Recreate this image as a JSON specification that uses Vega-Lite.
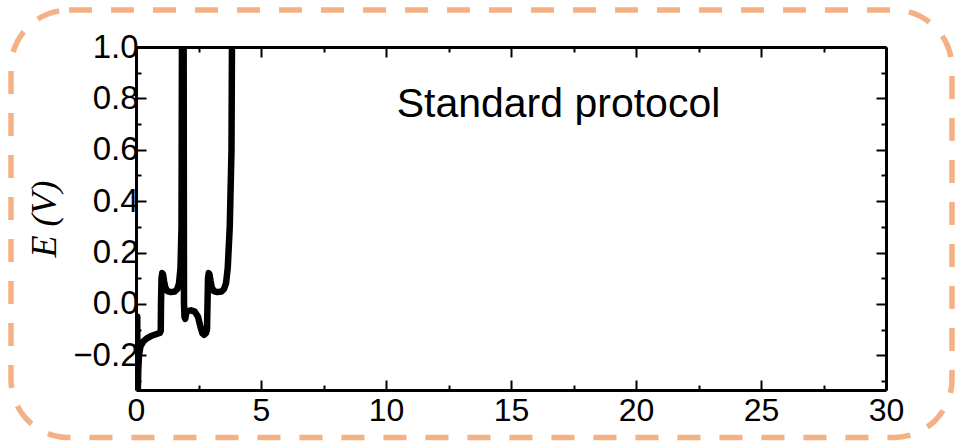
{
  "$schema": "https://vega.github.io/schema/vega-lite/v6.json",
  "width": 750,
  "height": 343,
  "autosize": "none",
  "padding": {"left": 136, "top": 47, "right": 73, "bottom": 51},
  "background": "white",
  "config": {"view": {"stroke": null}, "font": "Liberation Sans"},
  "resolve": {"axis": {"x": "independent", "y": "independent"}},
  "layer": [
    {
      "data": {"values": [{}]},
      "mark": {"type": "rect", "fill": null, "stroke": "#f4b183", "strokeWidth": 5.5, "strokeDash": [23, 19], "cornerRadius": 58, "clip": false},
      "encoding": {
        "x": {"datum": -5.0, "type": "quantitative", "axis": null, "scale": {"domain": [0, 30], "nice": false, "zero": false}},
        "x2": {"datum": 32.64},
        "y": {"datum": 1.144, "type": "quantitative", "axis": null, "scale": {"domain": [-0.335, 1.0], "nice": false, "zero": false}},
        "y2": {"datum": -0.52}
      }
    },
    {
      "data": {"values": [
        {"t": 0.05, "E": -0.05}, {"t": 0.06, "E": -0.6}, {"t": 0.075, "E": -0.33}, {"t": 0.09, "E": -0.26},
        {"t": 0.12, "E": -0.2}, {"t": 0.18, "E": -0.165}, {"t": 0.3, "E": -0.145}, {"t": 0.45, "E": -0.133},
        {"t": 0.6, "E": -0.125}, {"t": 0.8, "E": -0.118}, {"t": 0.95, "E": -0.113}, {"t": 0.99, "E": -0.105},
        {"t": 1.0, "E": 0.0}, {"t": 1.02, "E": 0.1}, {"t": 1.05, "E": 0.12}, {"t": 1.08, "E": 0.115},
        {"t": 1.12, "E": 0.09}, {"t": 1.17, "E": 0.065}, {"t": 1.25, "E": 0.05}, {"t": 1.4, "E": 0.046},
        {"t": 1.55, "E": 0.048}, {"t": 1.65, "E": 0.058}, {"t": 1.72, "E": 0.08}, {"t": 1.78, "E": 0.14},
        {"t": 1.82, "E": 0.3}, {"t": 1.85, "E": 1.5}, {"t": 1.9, "E": 1.5}, {"t": 1.92, "E": 0.0},
        {"t": 1.94, "E": -0.05}, {"t": 1.97, "E": -0.058}, {"t": 2.0, "E": -0.04}, {"t": 2.05, "E": -0.028},
        {"t": 2.2, "E": -0.025}, {"t": 2.35, "E": -0.03}, {"t": 2.48, "E": -0.05}, {"t": 2.58, "E": -0.09},
        {"t": 2.66, "E": -0.115}, {"t": 2.73, "E": -0.12}, {"t": 2.8, "E": -0.113}, {"t": 2.84, "E": -0.1},
        {"t": 2.86, "E": 0.0}, {"t": 2.88, "E": 0.1}, {"t": 2.91, "E": 0.12}, {"t": 2.94, "E": 0.115},
        {"t": 2.98, "E": 0.09}, {"t": 3.03, "E": 0.065}, {"t": 3.11, "E": 0.05}, {"t": 3.25, "E": 0.046},
        {"t": 3.42, "E": 0.048}, {"t": 3.52, "E": 0.058}, {"t": 3.6, "E": 0.08}, {"t": 3.67, "E": 0.14},
        {"t": 3.75, "E": 0.3}, {"t": 3.82, "E": 0.6}, {"t": 3.86, "E": 1.5}
      ]},
      "mark": {"type": "line", "color": "black", "strokeWidth": 6.5, "clip": true, "strokeJoin": "round", "strokeCap": "round"},
      "encoding": {
        "x": {
          "field": "t", "type": "quantitative",
          "scale": {"domain": [0, 30], "nice": false, "zero": false},
          "axis": {
            "orient": "bottom", "title": null, "grid": false,
            "values": [0, 2.5, 5, 7.5, 10, 12.5, 15, 17.5, 20, 22.5, 25, 27.5, 30],
            "labelExpr": "datum.value % 5 == 0 ? datum.label : ''",
            "tickSize": {"condition": {"test": "datum.value % 5 == 0", "value": -10}, "value": -5},
            "tickWidth": 2, "tickColor": "black",
            "domainWidth": 3, "domainColor": "black",
            "labelFontSize": 32, "labelColor": "black", "labelFont": "Liberation Sans",
            "labelPadding": 15, "labelFlush": false, "labelOverlap": false
          }
        },
        "y": {
          "field": "E", "type": "quantitative",
          "scale": {"domain": [-0.335, 1.0], "nice": false, "zero": false},
          "axis": {
            "orient": "left", "grid": false,
            "title": "E (V)", "titleFont": "Liberation Serif", "titleFontStyle": "italic", "titleFontWeight": "normal",
            "titleFontSize": 36, "titleColor": "black", "titlePadding": 9,
            "values": [-0.3, -0.2, -0.1, 0, 0.1, 0.2, 0.3, 0.4, 0.5, 0.6, 0.7, 0.8, 0.9, 1.0],
            "labelExpr": "abs(round(datum.value*10)) % 2 == 0 ? format(datum.value, '.1f') : ''",
            "tickSize": {"condition": {"test": "abs(round(datum.value*10)) % 2 == 0", "value": -10}, "value": -5},
            "tickWidth": 2, "tickColor": "black",
            "domainWidth": 3, "domainColor": "black",
            "labelFontSize": 33, "labelColor": "black", "labelFont": "Liberation Sans",
            "labelPadding": 8, "labelFlush": false, "labelOverlap": false
          }
        }
      }
    },
    {
      "data": {"values": [{}]},
      "mark": {"type": "text", "fontSize": 41, "font": "Liberation Sans", "align": "center", "baseline": "alphabetic", "color": "black"},
      "encoding": {
        "x": {
          "datum": 16.9, "type": "quantitative",
          "scale": {"domain": [0, 30], "nice": false, "zero": false},
          "axis": {
            "orient": "top", "title": null, "grid": false, "labels": false,
            "values": [0, 2.5, 5, 7.5, 10, 12.5, 15, 17.5, 20, 22.5, 25, 27.5, 30],
            "tickSize": {"condition": {"test": "datum.value % 5 == 0", "value": -10}, "value": -5},
            "tickWidth": 2, "tickColor": "black",
            "domainWidth": 3, "domainColor": "black"
          }
        },
        "y": {
          "datum": 0.728, "type": "quantitative",
          "scale": {"domain": [-0.335, 1.0], "nice": false, "zero": false},
          "axis": {
            "orient": "right", "title": null, "grid": false, "labels": false,
            "values": [-0.3, -0.2, -0.1, 0, 0.1, 0.2, 0.3, 0.4, 0.5, 0.6, 0.7, 0.8, 0.9, 1.0],
            "tickSize": {"condition": {"test": "abs(round(datum.value*10)) % 2 == 0", "value": -10}, "value": -5},
            "tickWidth": 2, "tickColor": "black",
            "domainWidth": 3, "domainColor": "black"
          }
        },
        "text": {"value": "Standard protocol"}
      }
    }
  ]
}
